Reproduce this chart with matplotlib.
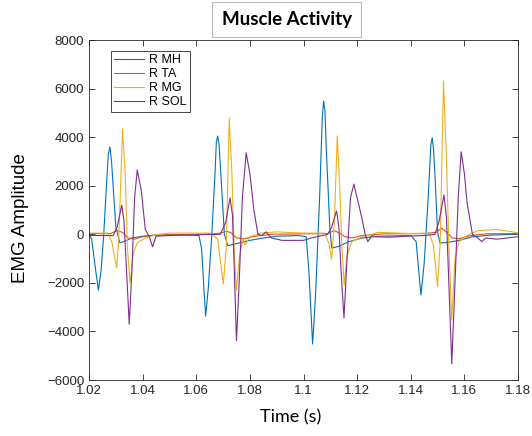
import matplotlib
matplotlib.use("Agg")
import matplotlib.pyplot as plt

# ---- data ----
t_mh = [1.020, 1.021, 1.0225, 1.0235, 1.0245, 1.0255, 1.0265, 1.0272, 1.0278, 1.0284, 1.029, 1.030,
        1.0315, 1.033, 1.036, 1.040, 1.045, 1.055, 1.061, 1.062, 1.063, 1.0635,
        1.0645, 1.0658, 1.067, 1.0675, 1.068, 1.0685, 1.069, 1.0705, 1.0718, 1.075, 1.080, 1.085,
        1.090, 1.098, 1.101, 1.102, 1.1034, 1.1045, 1.106, 1.107, 1.1075, 1.108, 1.1085, 1.1098,
        1.1105, 1.113, 1.117, 1.122, 1.128, 1.140, 1.142, 1.1438, 1.145, 1.1465,
        1.1475, 1.148, 1.1485, 1.149, 1.150, 1.1509, 1.154, 1.158, 1.163, 1.170, 1.180]
v_mh = [0, -200, -1500, -2300, -1500, 0, 2000, 3300, 3600, 3000, 2000, 300,
        -350, -300, -150, -80, -30, -20, -50, -600, -2500, -3370,
        -2200, 0, 2500, 3800, 4050, 3700, 2800, 0, -470, -380, -250, -150,
        -80, -50, -100, -1500, -4520, -2500, 1500, 4800, 5490, 5100, 3500, 300,
        -570, -500, -300, -150, -80, -50, -300, -2500, -1200, 1500,
        3700, 3980, 3500, 2500, 100, -360, -330, -250, -100, -30, 0]

t_ta = [1.020, 1.028, 1.0305, 1.0325, 1.0345, 1.037, 1.040, 1.045, 1.060, 1.068,
        1.0715, 1.073, 1.075, 1.078, 1.082, 1.088, 1.100, 1.109, 1.1115, 1.1135,
        1.1155, 1.118, 1.122, 1.130, 1.145, 1.1495, 1.1515, 1.1535, 1.1555, 1.158,
        1.162, 1.168, 1.180]
v_ta = [30, 30, 150, 80, -150, -200, -100, -30, 0, 30,
        120, 60, -150, -180, -80, 0, 20, 30, 150, 50,
        -100, -150, -50, 20, 30, 80, 250, 80, -150, -180,
        -60, 20, 30]

t_mg = [1.020, 1.027, 1.0285, 1.0303, 1.031, 1.0318, 1.0325, 1.0335, 1.0343, 1.0353,
        1.0365, 1.038, 1.041, 1.045, 1.050, 1.065, 1.068, 1.0701, 1.0712, 1.0723,
        1.0733, 1.0742, 1.075, 1.076, 1.0775, 1.0782, 1.080, 1.084, 1.090, 1.100,
        1.108, 1.1095, 1.1105, 1.1115, 1.1126, 1.1135, 1.1143, 1.1152, 1.1162, 1.118,
        1.122, 1.128, 1.140, 1.147, 1.1485, 1.150, 1.151, 1.1522, 1.1532, 1.1543,
        1.1553, 1.1565, 1.158, 1.161, 1.165, 1.172, 1.177, 1.180]
v_mg = [50, 50, -300, -1390, -400, 2000, 4340, 2500, -500, -2000,
        -800, -350, -150, -20, 50, 50, -200, -2050, -500, 4790,
        2500, -800, -2300, -1000, -150, -440, -100, 50, 100, 50,
        50, -400, -1020, 500, 4050, 2000, -500, -2090, -900, -300,
        -100, 80, 30, 50, -500, -2160, -300, 6320, 3500, -800,
        -3530, -1000, -300, -50, 150, 200, 120, 50]

t_sol = [1.020, 1.029, 1.0305, 1.0322, 1.033, 1.034, 1.035, 1.036, 1.037, 1.038,
         1.0395, 1.041, 1.0425, 1.0437, 1.045, 1.050, 1.060, 1.069, 1.071, 1.0726,
         1.0735, 1.0742, 1.075, 1.076, 1.0772, 1.0786, 1.080, 1.0815, 1.083, 1.0845,
         1.086, 1.088, 1.092, 1.096, 1.100, 1.103, 1.107, 1.109, 1.1105, 1.1123,
         1.1132, 1.114, 1.1151, 1.116, 1.1175, 1.1188, 1.120, 1.1215, 1.123, 1.124,
         1.1255, 1.127, 1.132, 1.138, 1.145, 1.149, 1.1505, 1.1524, 1.1533, 1.1542,
         1.1553, 1.1565, 1.1577, 1.1588, 1.160, 1.161, 1.163, 1.165, 1.1665, 1.168,
         1.172, 1.176, 1.180]
v_sol = [-50, -50, 300, 1200, 600, -1500, -3700, -1500, 1500, 2650,
         1800, 200, -100, -510, -80, -50, -20, 0, 500, 1500,
         800, -1500, -4380, -2000, 1500, 3360, 2500, 1000, 0, -50,
         100, -150, -250, -250, -250, -150, -50, 0, 300, 960,
         300, -1500, -3450, -1500, 1500, 2070, 1500, 800, 0, -300,
         -50, -100, -120, -80, -50, 0, 500, 1620, 700, -2000,
         -5340, -2000, 1500, 3400, 2500, 1300, 0, -150, -300, -150,
         -200, -150, -100]

labels = ["R MH", "R TA", "R MG", "R SOL"]
colors = ["#0072BD", "#D95319", "#EDB120", "#7E2F8E"]

plt.rcParams['font.family'] = ['Liberation Sans', 'DejaVu Sans']

fig = plt.figure(figsize=(5.32, 4.36), dpi=100)
ax = fig.add_axes([0.1673, 0.1284, 0.8064, 0.7798])

for (t, v), lab, c in zip([(t_mh, v_mh), (t_ta, v_ta), (t_mg, v_mg), (t_sol, v_sol)], labels, colors):
    ax.plot(t, v, color=c, lw=0.8, label=lab)

ax.set_xlim(1.02, 1.18)
ax.set_ylim(-6000, 8000)
ax.set_xticks([1.02, 1.04, 1.06, 1.08, 1.1, 1.12, 1.14, 1.16, 1.18])
ax.set_xticklabels(["1.02", "1.04", "1.06", "1.08", "1.1", "1.12", "1.14", "1.16", "1.18"])
ax.set_yticks(range(-6000, 8001, 2000))

ax.tick_params(direction='in', top=True, right=True, length=4, width=0.6,
               colors='#262626', labelsize=9.5, labelcolor='#262626')
for s in ax.spines.values():
    s.set_color('#262626')
    s.set_linewidth(0.6)

ax.set_ylabel("EMG Amplitude", fontsize=13.5)
ax.yaxis.set_label_coords(-0.14, 0.476)
ax.set_xlabel("Time (s)", fontsize=13, family=['Lato', 'DejaVu Sans'])
ax.xaxis.set_label_coords(0.471, -0.085)

leg = ax.legend(loc='upper left', bbox_to_anchor=(0.0506, 0.9685), borderaxespad=0,
                fontsize=9, fancybox=False, framealpha=1, edgecolor='#262626',
                handlelength=2.4, handletextpad=0.35, labelspacing=0.15, borderpad=0.3)
leg.get_frame().set_linewidth(0.6)

fig.text(0.539, 0.955, "Muscle Activity", ha='center', va='center', fontsize=13.5,
         fontweight='bold', family=['Lato', 'DejaVu Sans'],
         bbox=dict(boxstyle='square,pad=0.5', fc='white', ec='#bbbbbb', lw=0.8))

fig.savefig("out.png", dpi=100)
